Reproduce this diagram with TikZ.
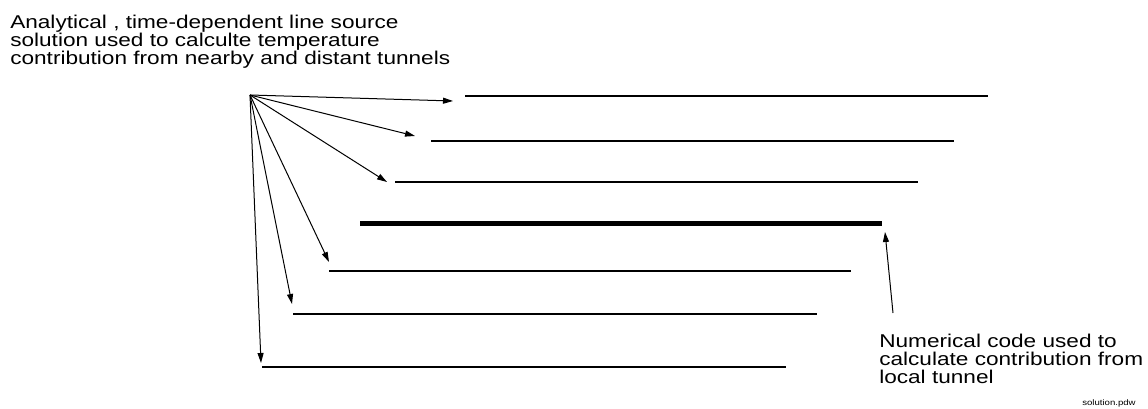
\documentclass[tikz,border=0pt]{standalone}
\usepackage{fontspec}
\setmainfont{Liberation Sans}
\newfontfamily\labf[FakeStretch=1.22]{Liberation Sans}
\newfontfamily\tinyf[FakeStretch=1.2]{Liberation Sans}
\usetikzlibrary{arrows.meta}
\begin{document}
\begin{tikzpicture}[x=0.75pt,y=-0.75pt,
  tunnel/.style={line width=1pt},
  localtunnel/.style={line width=3.75pt},
  pointer/.style={line width=0.75pt,-{Triangle[length=7.5pt,width=4.5pt]}},
  label/.style={font=\labf\fontsize{13.9pt}{13.5pt}\selectfont,align=left,inner sep=0pt,anchor=north west},
  tag/.style={font=\tinyf\fontsize{6pt}{7pt}\selectfont,inner sep=0pt,anchor=base west}]
\useasboundingbox (0,0) rectangle (1148,409);
% tunnels
\coordinate (t1a) at (465,96);  \coordinate (t1b) at (988,96);
\coordinate (t2a) at (431,141); \coordinate (t2b) at (954,141);
\coordinate (t3a) at (395,182); \coordinate (t3b) at (918,182);
\coordinate (t4a) at (360,224); \coordinate (t4b) at (882,224);
\coordinate (t5a) at (329,271); \coordinate (t5b) at (851,271);
\coordinate (t6a) at (293,314); \coordinate (t6b) at (817,314);
\coordinate (t7a) at (262,367); \coordinate (t7b) at (786,367);
\draw[tunnel] (t1a) -- (t1b);
\draw[tunnel] (t2a) -- (t2b);
\draw[tunnel] (t3a) -- (t3b);
\draw[localtunnel] (t4a) -- (t4b);
\draw[tunnel] (t5a) -- (t5b);
\draw[tunnel] (t6a) -- (t6b);
\draw[tunnel] (t7a) -- (t7b);
% labels
\node[label] (ana) at (10,15) {Analytical , time-dependent line source\\solution used to calculte temperature\\contribution from nearby and distant tunnels};
\node[label] (num) at (879,334.3) {Numerical code used to\\calculate contribution from\\local tunnel};
\node[tag] (sol) at (1082,405.5) {solution.pdw};
% arrows
\coordinate (src) at (250,95);
\coordinate (p1) at (453,101);
\coordinate (p2) at (415,136);
\coordinate (p3) at (387,182);
\coordinate (p5) at (329,262);
\coordinate (p6) at (292,304);
\coordinate (p7) at (261,363);
\foreach \p in {p1,p2,p3,p5,p6,p7} \draw[pointer] (src) -- (\p);
\coordinate (nsrc) at (893,313);
\coordinate (ntip) at (885,232);
\draw[pointer] (nsrc) -- (ntip);
\end{tikzpicture}
\end{document}
